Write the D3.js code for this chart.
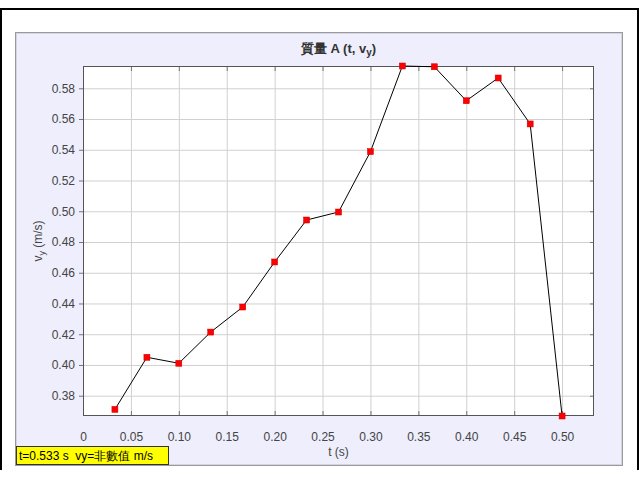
<!DOCTYPE html>
<html>
<head>
<meta charset="utf-8">
<script src="https://cdn.jsdelivr.net/npm/d3@7"></script>
<style>
  body { margin: 0; background: #fff; }
  text { font-family: "Liberation Sans", Arial, sans-serif; }
</style>
</head>
<body>
<div id="chart"></div>
<script>
// t (s) and vy (m/s)
var times = [0.0333, 0.0667, 0.1000, 0.1333, 0.1667, 0.2000, 0.2333, 0.2667,
             0.3000, 0.3333, 0.3667, 0.4000, 0.4333, 0.4667, 0.5000];
var vy = [0.3711, 0.4050, 0.4011, 0.4214, 0.4377, 0.4670, 0.4943, 0.4995,
          0.5388, 0.5945, 0.5940, 0.5719, 0.5867, 0.5568, 0.3668];
var xTicks = [0, 0.05, 0.10, 0.15, 0.20, 0.25, 0.30, 0.35, 0.40, 0.45, 0.50];
var yTicks = [0.38, 0.40, 0.42, 0.44, 0.46, 0.48, 0.50, 0.52, 0.54, 0.56, 0.58];
var tMax = 0.5333;

var data = times.map(function(t, i) { return {t: t, v: vy[i]}; });

var svg = d3.select("#chart").append("svg")
  .attr("width", 639)
  .attr("height", 480);

// outer black frame
svg.append("rect").attr("x", 0).attr("y", 8).attr("width", 639).attr("height", 2).attr("fill", "#000");
svg.append("rect").attr("x", 0).attr("y", 8).attr("width", 2).attr("height", 462).attr("fill", "#000");
svg.append("rect").attr("x", 637).attr("y", 8).attr("width", 2).attr("height", 462).attr("fill", "#000");

// panel
svg.append("rect")
  .attr("x", 15.5).attr("y", 32.5)
  .attr("width", 607).attr("height", 433)
  .attr("fill", "#eeeefc")
  .attr("stroke", "#9a9a9a");
svg.append("rect")
  .attr("x", 16.5).attr("y", 33.5)
  .attr("width", 605).attr("height", 431)
  .attr("fill", "none")
  .attr("stroke", "#d4d4e4");

var pLeft = 83, pTop = 66, pRight = 594, pBottom = 416;

var x = d3.scaleLinear().domain([0, tMax]).range([pLeft, pRight]);
var y = d3.scaleLinear().domain(d3.extent(vy)).range([pBottom, pTop]);

// plot background
svg.append("rect")
  .attr("x", pLeft).attr("y", pTop)
  .attr("width", pRight - pLeft).attr("height", pBottom - pTop)
  .attr("fill", "#fff");

// grid lines
svg.append("g")
  .attr("transform", "translate(0," + pBottom + ")")
  .call(d3.axisBottom(x).tickValues(xTicks).tickSize(-(pBottom - pTop)).tickFormat(""))
  .call(function(g) { g.select(".domain").remove(); })
  .selectAll("line").attr("stroke", "#d0d0d0");
svg.append("g")
  .attr("transform", "translate(" + pLeft + ",0)")
  .call(d3.axisLeft(y).tickValues(yTicks).tickSize(-(pRight - pLeft)).tickFormat(""))
  .call(function(g) { g.select(".domain").remove(); })
  .selectAll("line").attr("stroke", "#d0d0d0");

// tick marks on every side
var tickCol = "#777";
var xb = svg.append("g")
  .attr("transform", "translate(0," + pBottom + ")")
  .call(d3.axisBottom(x).tickValues(xTicks).tickSizeInner(-5).tickSizeOuter(0).tickPadding(16)
    .tickFormat(function(d) { return d === 0 ? "0" : d3.format(".2f")(d); }));
xb.select(".domain").remove();
xb.selectAll("line").attr("stroke", tickCol);
xb.selectAll("text").attr("fill", "#444").style("font-size", "12px");

var xt = svg.append("g")
  .attr("transform", "translate(0," + pTop + ")")
  .call(d3.axisTop(x).tickValues(xTicks).tickSizeInner(-5).tickSizeOuter(0).tickFormat(""));
xt.select(".domain").remove();
xt.selectAll("line").attr("stroke", tickCol);

var yl = svg.append("g")
  .attr("transform", "translate(" + pLeft + ",0)")
  .call(d3.axisLeft(y).tickValues(yTicks).tickSizeInner(4).tickSizeOuter(0).tickPadding(4)
    .tickFormat(d3.format(".2f")));
yl.select(".domain").remove();
yl.selectAll("line").attr("stroke", tickCol);
yl.selectAll("text").attr("fill", "#444").style("font-size", "12px");

var yr = svg.append("g")
  .attr("transform", "translate(" + pRight + ",0)")
  .call(d3.axisRight(y).tickValues(yTicks).tickSizeInner(-4).tickSizeOuter(0).tickFormat(""));
yr.select(".domain").remove();
yr.selectAll("line").attr("stroke", tickCol);

// plot border
svg.append("rect")
  .attr("x", pLeft + 0.5).attr("y", pTop + 0.5)
  .attr("width", pRight - pLeft - 1).attr("height", pBottom - pTop - 1)
  .attr("fill", "none")
  .attr("stroke", "#555");

// data line
svg.append("path")
  .datum(data)
  .attr("d", d3.line().x(function(d) { return x(d.t); }).y(function(d) { return y(d.v); }))
  .attr("fill", "none")
  .attr("stroke", "#000")
  .attr("stroke-width", 1);

// markers
svg.selectAll(".pt")
  .data(data)
  .enter().append("rect")
  .attr("class", "pt")
  .attr("x", function(d) { return x(d.t) - 3; })
  .attr("y", function(d) { return y(d.v) - 3; })
  .attr("width", 6).attr("height", 6)
  .attr("fill", "#ff0000")
  .attr("stroke", "#cc0000")
  .attr("stroke-width", 0.5);

// title
var title = svg.append("text")
  .attr("x", (pLeft + pRight) / 2)
  .attr("y", 53)
  .attr("text-anchor", "middle")
  .attr("fill", "#333")
  .style("font-size", "13px")
  .style("font-weight", "bold");
title.append("tspan").text("質量 A (t, v");
title.append("tspan").attr("dy", 3).style("font-size", "10px").text("y");
title.append("tspan").attr("dy", -3).text(")");

// x axis label
svg.append("text")
  .attr("x", (pLeft + pRight) / 2)
  .attr("y", 456)
  .attr("text-anchor", "middle")
  .attr("fill", "#444")
  .style("font-size", "12px")
  .text("t (s)");

// y axis label
var ylab = svg.append("text")
  .attr("transform", "translate(42," + ((pTop + pBottom) / 2) + ") rotate(-90)")
  .attr("text-anchor", "middle")
  .attr("fill", "#444")
  .style("font-size", "12px");
ylab.append("tspan").text("v");
ylab.append("tspan").attr("dy", 3).style("font-size", "9px").text("y");
ylab.append("tspan").attr("dy", -3).text(" (m/s)");

// status box
svg.append("rect")
  .attr("x", 16.5).attr("y", 446.5)
  .attr("width", 152).attr("height", 18)
  .attr("fill", "#ffff00")
  .attr("stroke", "#333");
svg.append("text")
  .attr("x", 19)
  .attr("y", 460)
  .attr("fill", "#000")
  .style("font-size", "12px")
  .style("white-space", "pre")
  .text("t=0.533 s  vy=非數值 m/s");
</script>
</body>
</html>
